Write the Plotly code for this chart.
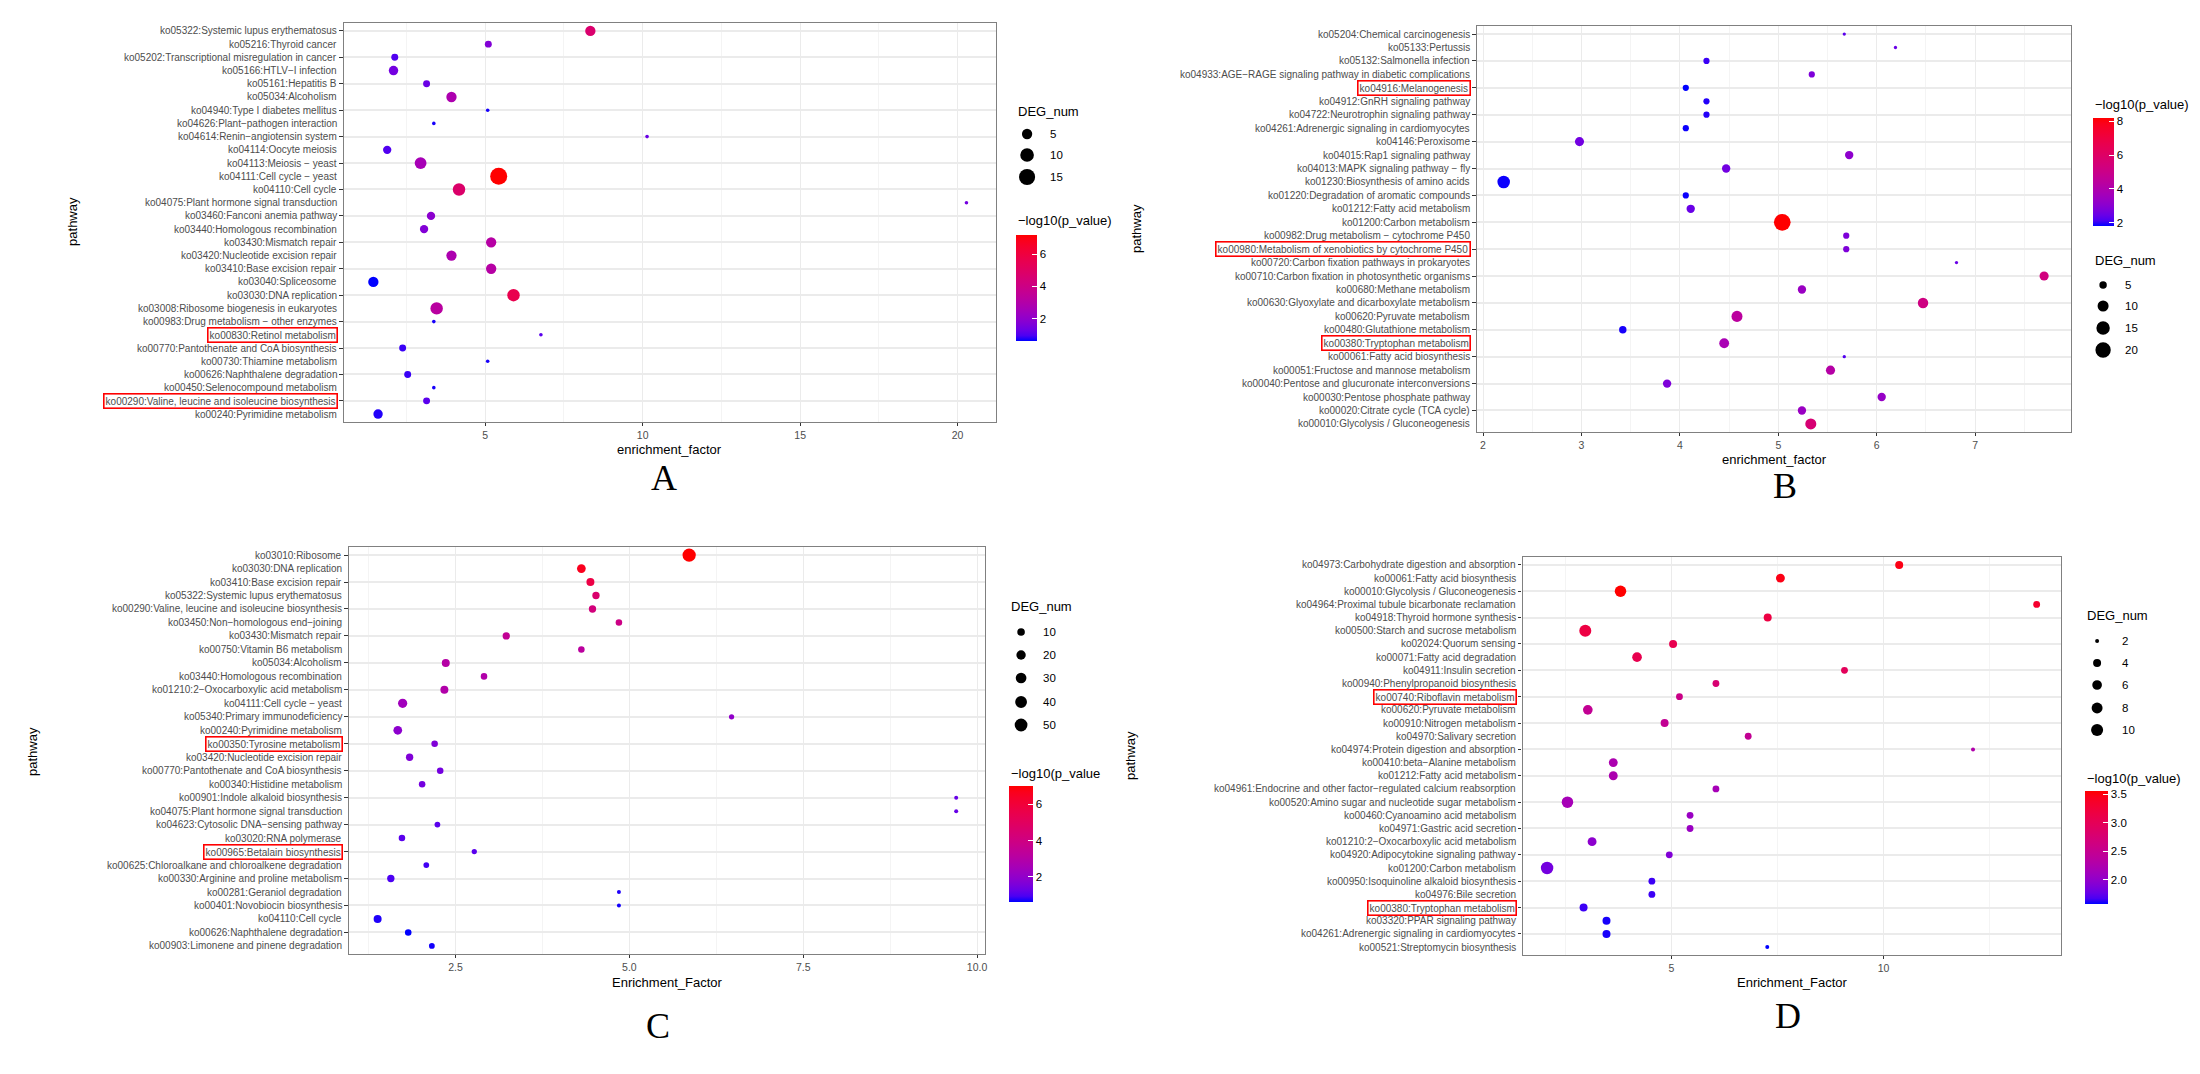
import numpy as np
import plotly.graph_objects as go

W, H = 2200, 1074

# ---------------- panel A ----------------
a_path = [
    "ko05322:Systemic lupus erythematosus", "ko05216:Thyroid cancer",
    "ko05202:Transcriptional misregulation in cancer", "ko05166:HTLV−I infection",
    "ko05161:Hepatitis B", "ko05034:Alcoholism", "ko04940:Type I diabetes mellitus",
    "ko04626:Plant−pathogen interaction", "ko04614:Renin−angiotensin system",
    "ko04114:Oocyte meiosis", "ko04113:Meiosis − yeast", "ko04111:Cell cycle − yeast",
    "ko04110:Cell cycle", "ko04075:Plant hormone signal transduction",
    "ko03460:Fanconi anemia pathway", "ko03440:Homologous recombination",
    "ko03430:Mismatch repair", "ko03420:Nucleotide excision repair",
    "ko03410:Base excision repair", "ko03040:Spliceosome", "ko03030:DNA replication",
    "ko03008:Ribosome biogenesis in eukaryotes", "ko00983:Drug metabolism − other enzymes",
    "ko00830:Retinol metabolism", "ko00770:Pantothenate and CoA biosynthesis",
    "ko00730:Thiamine metabolism", "ko00626:Naphthalene degradation",
    "ko00450:Selenocompound metabolism", "ko00290:Valine, leucine and isoleucine biosynthesis",
    "ko00240:Pyrimidine metabolism",
]
a_ef = [8.34, 5.10, 2.13, 2.09, 3.14, 3.93, 5.08, 3.37, 10.14, 1.89, 2.95, 5.43, 4.17, 20.28, 3.28,
        3.06, 5.19, 3.93, 5.19, 1.45, 5.90, 3.46, 3.37, 6.77, 2.38, 5.08, 2.54, 3.37, 3.14, 1.60]
a_deg = [5, 2, 2, 4, 2, 5, 1, 1, 1, 3, 7, 17, 8, 1, 3, 3, 5, 5, 5, 5, 8, 8, 1, 1, 2, 1, 2, 1, 2, 4]
a_logp = [4.7, 1.7, 1.0, 1.45, 1.3, 2.8, 0.7, 0.7, 1.3, 1.0, 2.6, 7.2, 4.8, 1.45, 1.9,
          1.7, 3.1, 2.8, 3.1, 0.6, 5.6, 3.2, 0.7, 1.1, 0.85, 0.7, 0.85, 0.7, 1.1, 0.75]
a_boxed = ["ko00830:Retinol metabolism", "ko00290:Valine, leucine and isoleucine biosynthesis"]
a_size_keys = [5, 10, 15]
a_cbar_ticks = [2, 4, 6]

# ---------------- panel B ----------------
b_path = [
    "ko05204:Chemical carcinogenesis", "ko05133:Pertussis", "ko05132:Salmonella infection",
    "ko04933:AGE−RAGE signaling pathway in diabetic complications", "ko04916:Melanogenesis",
    "ko04912:GnRH signaling pathway", "ko04722:Neurotrophin signaling pathway",
    "ko04261:Adrenergic signaling in cardiomyocytes", "ko04146:Peroxisome",
    "ko04015:Rap1 signaling pathway", "ko04013:MAPK signaling pathway − fly",
    "ko01230:Biosynthesis of amino acids", "ko01220:Degradation of aromatic compounds",
    "ko01212:Fatty acid metabolism", "ko01200:Carbon metabolism",
    "ko00982:Drug metabolism − cytochrome P450", "ko00980:Metabolism of xenobiotics by cytochrome P450",
    "ko00720:Carbon fixation pathways in prokaryotes", "ko00710:Carbon fixation in photosynthetic organisms",
    "ko00680:Methane metabolism", "ko00630:Glyoxylate and dicarboxylate metabolism",
    "ko00620:Pyruvate metabolism", "ko00480:Glutathione metabolism", "ko00380:Tryptophan metabolism",
    "ko00061:Fatty acid biosynthesis", "ko00051:Fructose and mannose metabolism",
    "ko00040:Pentose and glucuronate interconversions", "ko00030:Pentose phosphate pathway",
    "ko00020:Citrate cycle (TCA cycle)", "ko00010:Glycolysis / Gluconeogenesis",
]
b_ef = [5.67, 6.19, 4.27, 5.34, 4.06, 4.27, 4.27, 4.06, 2.98, 5.72, 4.47, 2.21, 4.06, 4.11, 5.04,
        5.69, 5.69, 6.81, 7.70, 5.24, 6.47, 4.58, 3.42, 4.45, 5.67, 5.53, 3.87, 6.05, 5.24, 5.33]
b_deg = [3, 3, 4, 4, 4, 4, 4, 4, 7, 6, 6, 13, 4, 6, 24, 4, 4, 3, 7, 6, 9, 10, 5, 8, 3, 7, 6, 6, 6, 10]
b_logp = [2.3, 2.45, 2.05, 2.8, 1.8, 1.95, 1.95, 1.85, 2.6, 3.1, 2.6, 1.85, 1.85, 2.45, 8.2,
          2.8, 2.8, 2.45, 5.3, 3.4, 5.2, 4.4, 1.9, 3.8, 2.2, 4.2, 2.8, 3.3, 3.4, 5.6]
b_boxed = ["ko04916:Melanogenesis", "ko00980:Metabolism of xenobiotics by cytochrome P450",
           "ko00380:Tryptophan metabolism"]
b_size_keys = [5, 10, 15, 20]
b_cbar_ticks = [2, 4, 6, 8]

# ---------------- panel C ----------------
c_path = [
    "ko03010:Ribosome", "ko03030:DNA replication", "ko03410:Base excision repair",
    "ko05322:Systemic lupus erythematosus", "ko00290:Valine, leucine and isoleucine biosynthesis",
    "ko03450:Non−homologous end−joining", "ko03430:Mismatch repair", "ko00750:Vitamin B6 metabolism",
    "ko05034:Alcoholism", "ko03440:Homologous recombination", "ko01210:2−Oxocarboxylic acid metabolism",
    "ko04111:Cell cycle − yeast", "ko05340:Primary immunodeficiency", "ko00240:Pyrimidine metabolism",
    "ko00350:Tyrosine metabolism", "ko03420:Nucleotide excision repair",
    "ko00770:Pantothenate and CoA biosynthesis", "ko00340:Histidine metabolism",
    "ko00901:Indole alkaloid biosynthesis", "ko04075:Plant hormone signal transduction",
    "ko04623:Cytosolic DNA−sensing pathway", "ko03020:RNA polymerase", "ko00965:Betalain biosynthesis",
    "ko00625:Chloroalkane and chloroalkene degradation", "ko00330:Arginine and proline metabolism",
    "ko00281:Geraniol degradation", "ko00401:Novobiocin biosynthesis", "ko04110:Cell cycle",
    "ko00626:Naphthalene degradation", "ko00903:Limonene and pinene degradation",
]
c_ef = [5.86, 4.31, 4.44, 4.52, 4.47, 4.85, 3.23, 4.31, 2.36, 2.91, 2.34, 1.74, 6.47, 1.67, 2.20,
        1.84, 2.28, 2.02, 9.70, 9.70, 2.24, 1.73, 2.77, 2.08, 1.57, 4.85, 4.85, 1.38, 1.82, 2.16]
c_deg = [56, 16, 12, 9, 9, 6, 9, 6, 12, 6, 12, 19, 3, 16, 6, 9, 6, 6, 2, 2,
         4, 6, 3, 4, 9, 2, 2, 12, 6, 4]
c_logp = [7.0, 6.6, 5.7, 4.6, 4.2, 3.9, 3.5, 3.2, 3.0, 2.9, 2.9, 2.4, 2.0, 1.9, 1.65,
          1.65, 1.45, 1.45, 1.25, 1.25, 1.1, 1.1, 1.1, 0.9, 0.95, 0.75, 0.7, 0.75, 0.62, 0.7]
c_boxed = ["ko00350:Tyrosine metabolism", "ko00965:Betalain biosynthesis"]
c_size_keys = [10, 20, 30, 40, 50]
c_cbar_ticks = [2, 4, 6]

# ---------------- panel D ----------------
d_path = [
    "ko04973:Carbohydrate digestion and absorption", "ko00061:Fatty acid biosynthesis",
    "ko00010:Glycolysis / Gluconeogenesis", "ko04964:Proximal tubule bicarbonate reclamation",
    "ko04918:Thyroid hormone synthesis", "ko00500:Starch and sucrose metabolism",
    "ko02024:Quorum sensing", "ko00071:Fatty acid degradation", "ko04911:Insulin secretion",
    "ko00940:Phenylpropanoid biosynthesis", "ko00740:Riboflavin metabolism",
    "ko00620:Pyruvate metabolism", "ko00910:Nitrogen metabolism", "ko04970:Salivary secretion",
    "ko04974:Protein digestion and absorption", "ko00410:beta−Alanine metabolism",
    "ko01212:Fatty acid metabolism",
    "ko04961:Endocrine and other factor−regulated calcium reabsorption",
    "ko00520:Amino sugar and nucleotide sugar metabolism", "ko00460:Cyanoamino acid metabolism",
    "ko04971:Gastric acid secretion", "ko01210:2−Oxocarboxylic acid metabolism",
    "ko04920:Adipocytokine signaling pathway", "ko01200:Carbon metabolism",
    "ko00950:Isoquinoline alkaloid biosynthesis", "ko04976:Bile secretion",
    "ko00380:Tryptophan metabolism", "ko03320:PPAR signaling pathway",
    "ko04261:Adrenergic signaling in cardiomyocytes", "ko00521:Streptomycin biosynthesis",
]
d_ef = [10.37, 7.57, 3.80, 13.61, 7.27, 2.97, 5.04, 4.19, 9.08, 6.05, 5.19, 3.03, 4.84, 6.81, 12.11,
        3.63, 3.63, 6.05, 2.55, 5.44, 5.44, 3.13, 4.95, 2.07, 4.54, 4.54, 2.93, 3.47, 3.47, 7.26]
d_deg = [4, 5, 9, 3, 4, 10, 4, 6, 3, 3, 3, 6, 4, 3, 2, 5, 5, 3, 9, 3, 3, 5, 3, 11, 3, 3, 4, 4, 4, 2]
d_logp = [3.48, 3.48, 3.56, 3.33, 3.17, 3.17, 3.07, 3.07, 2.97, 2.77, 2.57, 2.47, 2.47, 2.47, 2.27,
          2.23, 2.23, 2.17, 2.17, 2.07, 2.07, 1.97, 1.9, 1.83, 1.65, 1.65, 1.65, 1.6, 1.6, 1.57]
d_boxed = ["ko00740:Riboflavin metabolism", "ko00380:Tryptophan metabolism"]
d_size_keys = [2, 4, 6, 8, 10]
d_cbar_ticks = [2.0, 2.5, 3.0, 3.5]


# blue -> red ramp interpolated in CIELAB, like ggplot's scale_colour_gradient
def to_lab(rgb):
    c = np.array(rgb, float) / 255
    c = np.where(c > 0.04045, ((c + 0.055) / 1.055) ** 2.4, c / 12.92)
    m = np.array([[0.4124, 0.3576, 0.1805], [0.2126, 0.7152, 0.0722], [0.0193, 0.1192, 0.9505]])
    xyz = m @ c / np.array([0.95047, 1.0, 1.08883])
    f = np.where(xyz > (6 / 29) ** 3, np.cbrt(xyz), xyz / (3 * (6 / 29) ** 2) + 4 / 29)
    return np.array([116 * f[1] - 16, 500 * (f[0] - f[1]), 200 * (f[1] - f[2])])


def from_lab(lab):
    fy = (lab[0] + 16) / 116
    f = np.array([fy + lab[1] / 500, fy, fy - lab[2] / 200])
    xyz = np.where(f > 6 / 29, f ** 3, 3 * (6 / 29) ** 2 * (f - 4 / 29)) * np.array([0.95047, 1.0, 1.08883])
    mi = np.array([[3.2406, -1.5372, -0.4986], [-0.9689, 1.8758, 0.0415], [0.0557, -0.2040, 1.0570]])
    c = np.clip(mi @ xyz, 0, 1)
    c = np.where(c > 0.0031308, 1.055 * c ** (1 / 2.4) - 0.055, 12.92 * c)
    r, g, b = np.round(c * 255).astype(int)
    return f"rgb({r},{g},{b})"


lo_lab, hi_lab = to_lab([0, 0, 255]), to_lab([255, 0, 0])
ramp = [[t, from_lab(lo_lab + t * (hi_lab - lo_lab))] for t in np.linspace(0, 1, 21)]


def px(x):
    return x / W


def py(y):
    return 1 - y / H


def gg_size(v, lo, hi, dmin, dmax):
    v = np.asarray(v, float)
    return dmin + (dmax - dmin) * np.sqrt((v - lo) / (hi - lo))


FONT = "Liberation Sans, Arial, sans-serif"
GRID = "#EBEBEB"

panels = [
    dict(path=a_path, ef=a_ef, deg=a_deg, logp=a_logp, boxed=a_boxed, keys=a_size_keys,
         cticks=a_cbar_ticks, cfmt="%d", box=(336, 15, 989, 414), dia=(3.6, 17.0),
         major=[5, 10, 15, 20], minor=[2.5, 7.5, 12.5, 17.5], tfmt="%g",
         xtitle="enrichment_factor", xt=(662, 441), letter="A", lt=(657, 470), yt=(65, 213),
         size_leg=(1009, 103, [126, 147, 169], 1020, 1041),
         cbar=(1009, 213, 227, 21, 106), ctitle="−log10(p_value)"),
    dict(path=b_path, ef=b_ef, deg=b_deg, logp=b_logp, boxed=b_boxed, keys=b_size_keys,
         cticks=b_cbar_ticks, cfmt="%d", box=(1470, 18, 2065, 424), dia=(3.3, 16.7),
         major=[2, 3, 4, 5, 6, 7], minor=[2.5, 3.5, 4.5, 5.5, 6.5, 7.5], tfmt="%g",
         xtitle="enrichment_factor", xt=(1768, 451), letter="B", lt=(1779, 478), yt=(1129, 220),
         size_leg=(2087, 253, [277, 298, 320, 342], 2097, 2117),
         cbar=(2087, 97, 110, 21, 108), ctitle="−log10(p_value)"),
    dict(path=c_path, ef=c_ef, deg=c_deg, logp=c_logp, boxed=c_boxed, keys=c_size_keys,
         cticks=c_cbar_ticks, cfmt="%d", box=(341, 539, 978, 946), dia=(4.0, 13.3),
         major=[2.5, 5, 7.5, 10], minor=[1.25, 3.75, 6.25, 8.75], tfmt="%.1f",
         xtitle="Enrichment_Factor", xt=(660, 974), letter="C", lt=(651, 1018), yt=(24, 743),
         size_leg=(1002, 598, [624, 647, 670, 694, 717], 1014, 1034),
         cbar=(1002, 765, 778, 24, 116), ctitle="−log10(p_value"),
    dict(path=d_path, ef=d_ef, deg=d_deg, logp=d_logp, boxed=d_boxed, keys=d_size_keys,
         cticks=d_cbar_ticks, cfmt="%.1f", box=(1516, 549, 2055, 947), dia=(4.0, 12.5),
         major=[5, 10], minor=[2.5, 7.5, 12.5], tfmt="%g",
         xtitle="Enrichment_Factor", xt=(1786, 974), letter="D", lt=(1782, 1008), yt=(1123, 747),
         size_leg=(2079, 607, [633, 655, 677, 700, 722], 2091, 2114),
         cbar=(2079, 770, 783, 23, 113), ctitle="−log10(p_value)"),
]

fig = go.Figure()
layout = dict(width=W, height=H, margin=dict(l=0, r=0, t=0, b=0),
              paper_bgcolor="white", plot_bgcolor="white", showlegend=False)
annotations, shapes = [], []

for k, p in enumerate(panels, start=1):
    sfx = "" if k == 1 else str(k)
    n = len(p["path"])
    ef = np.array(p["ef"])
    deg = np.array(p["deg"])
    lo, hi = deg.min(), deg.max()
    dmin, dmax = p["dia"]

    fig.add_trace(go.Scatter(
        x=ef, y=p["path"], mode="markers", xaxis="x" + sfx, yaxis="y" + sfx,
        marker=dict(size=gg_size(deg, lo, hi, dmin, dmax), color=p["logp"],
                    coloraxis="coloraxis" + sfx, line=dict(width=0), opacity=1),
        hovertemplate="%{y}<br>%{x}<extra></extra>",
    ))

    x0, y0, x1, y1 = p["box"]
    pad = 0.05 * (ef.max() - ef.min())
    layout["xaxis" + sfx] = dict(
        domain=[px(x0), px(x1)], anchor="y" + sfx, range=[ef.min() - pad, ef.max() + pad],
        tickvals=p["major"], ticktext=[p["tfmt"] % v for v in p["major"]],
        showgrid=True, gridcolor=GRID, gridwidth=1.4, zeroline=False,
        minor=dict(tickvals=p["minor"], showgrid=True, gridcolor="#F4F4F4", gridwidth=0.8),
        showline=True, mirror=True, linecolor="#808080", linewidth=1.3,
        ticks="outside", ticklen=3, tickcolor="#333333", tickwidth=1,
        tickfont=dict(family=FONT, size=10.5, color="#4D4D4D"),
    )
    layout["yaxis" + sfx] = dict(
        domain=[py(y1), py(y0)], anchor="x" + sfx, type="category",
        categoryorder="array", categoryarray=p["path"], range=[n - 1 + 0.6, -0.6],
        showgrid=True, gridcolor=GRID, gridwidth=1.6, zeroline=False,
        showline=True, mirror=True, linecolor="#808080", linewidth=1.3,
        ticks="outside", ticklen=3.5, tickcolor="#333333", tickwidth=1, showticklabels=False,
    )

    # pathway labels, highlighted ones framed in red
    for i, name in enumerate(p["path"]):
        boxed = name in p["boxed"]
        annotations.append(dict(
            xref=f"x{sfx} domain", yref="y" + sfx, x=0, y=i, xanchor="right", yanchor="middle",
            xshift=-5.5, text=name, showarrow=False,
            font=dict(family=FONT, size=10, color="#4D4D4D"),
            bordercolor="#FF0000" if boxed else "rgba(0,0,0,0)",
            borderwidth=1.6 if boxed else 0, borderpad=1,
        ))

    # colour bar
    cx, cty, cby, cth, clen = p["cbar"]
    layout["coloraxis" + sfx] = dict(
        colorscale=ramp, cmin=min(p["logp"]), cmax=max(p["logp"]),
        colorbar=dict(
            x=px(cx), xanchor="left", xpad=0, y=py(cby), yanchor="top", ypad=0,
            lenmode="pixels", len=clen, thicknessmode="pixels", thickness=cth,
            outlinewidth=0, ticks="inside", ticklen=5, tickcolor="white", tickwidth=1,
            tickvals=p["cticks"], ticktext=[p["cfmt"] % v for v in p["cticks"]],
            tickfont=dict(family=FONT, size=11.5, color="#000000"),
        ),
    )
    annotations.append(dict(
        xref="paper", yref="paper", x=px(cx), y=py(cty), xanchor="left", yanchor="middle",
        text=p["ctitle"], showarrow=False, font=dict(family=FONT, size=13, color="#000000")))

    # size legend
    lx, lty, rows, ccx, tlx = p["size_leg"]
    annotations.append(dict(
        xref="paper", yref="paper", x=px(lx), y=py(lty), xanchor="left", yanchor="middle",
        text="DEG_num", showarrow=False, font=dict(family=FONT, size=13, color="#000000")))
    for v, ry in zip(p["keys"], rows):
        r = gg_size(v, lo, hi, dmin, dmax) / 2
        shapes.append(dict(
            type="circle", xref="paper", yref="paper", xsizemode="pixel", ysizemode="pixel",
            xanchor=px(ccx), yanchor=py(ry), x0=-r, x1=r, y0=-r, y1=r,
            fillcolor="black", line=dict(width=0)))
        annotations.append(dict(
            xref="paper", yref="paper", x=px(tlx), y=py(ry), xanchor="left", yanchor="middle",
            text=str(v), showarrow=False, font=dict(family=FONT, size=11.5, color="#000000")))

    # axis titles and panel letter
    annotations.append(dict(
        xref="paper", yref="paper", x=px(p["xt"][0]), y=py(p["xt"][1]), xanchor="center",
        yanchor="middle", text=p["xtitle"], showarrow=False,
        font=dict(family=FONT, size=13, color="#000000")))
    annotations.append(dict(
        xref="paper", yref="paper", x=px(p["yt"][0]), y=py(p["yt"][1]), xanchor="center",
        yanchor="middle", text="pathway", textangle=-90, showarrow=False,
        font=dict(family=FONT, size=13, color="#000000")))
    annotations.append(dict(
        xref="paper", yref="paper", x=px(p["lt"][0]), y=py(p["lt"][1]), xanchor="center",
        yanchor="middle", text=p["letter"], showarrow=False,
        font=dict(family="Liberation Serif, Times New Roman, serif", size=36, color="#000000")))

layout["annotations"] = annotations
layout["shapes"] = shapes
fig.update_layout(**layout)

fig.write_html("out.html")
